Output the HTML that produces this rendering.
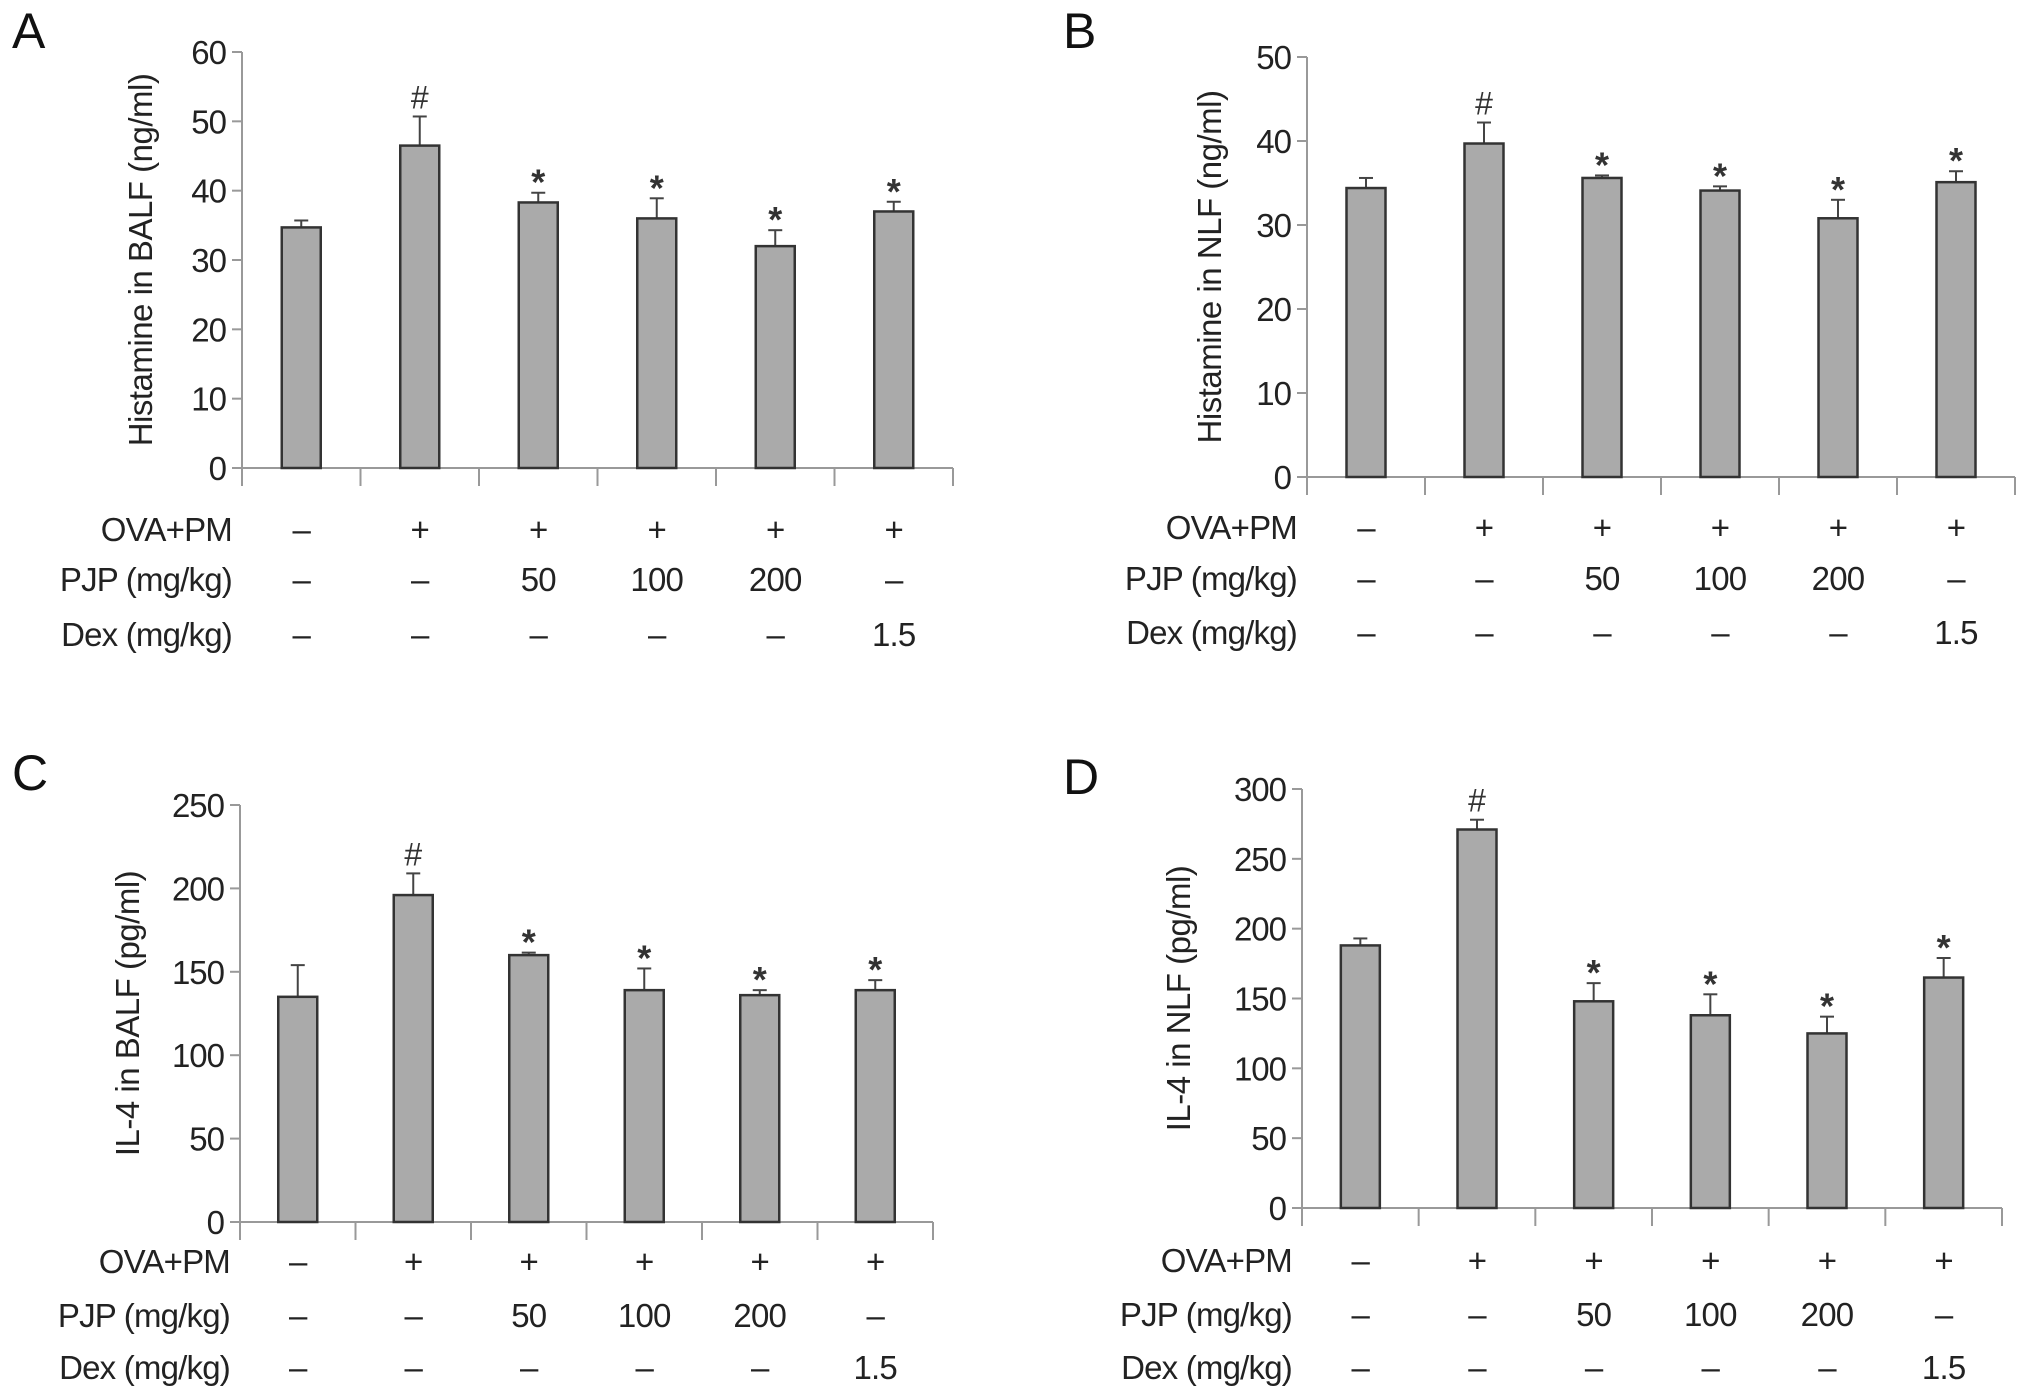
<!DOCTYPE html>
<html><head><meta charset="utf-8"><style>
html,body{margin:0;padding:0;background:#fff;}
svg{display:block;font-family:"Liberation Sans",Arial,sans-serif;}
</style></head><body>
<svg id="fig" width="2032" height="1399" viewBox="0 0 2032 1399" xmlns="http://www.w3.org/2000/svg"></svg>
<script>
const categories = ["ctrl","ova-pm","pjp-50","pjp-100","pjp-200","dex-1.5"];
const rowOva = ["–","+","+","+","+","+"];
const rowPjp = ["–","–","50","100","200","–"];
const rowDex = ["–","–","–","–","–","1.5"];
const marks = ["","#","*","*","*","*"];
const valuesA = [34.7,46.5,38.3,36.0,32.0,37.0];
const errorsA = [1.0,4.2,1.4,2.9,2.3,1.4];
const ticksA = [0,10,20,30,40,50,60];
const valuesB = [34.4,39.7,35.6,34.1,30.8,35.1];
const errorsB = [1.2,2.5,0.3,0.5,2.2,1.3];
const ticksB = [0,10,20,30,40,50];
const valuesC = [135,196,160,139,136,139];
const errorsC = [19,13,1.5,13,3,6];
const ticksC = [0,50,100,150,200,250];
const valuesD = [188,271,148,138,125,165];
const errorsD = [5,7,13,15,12,14];
const ticksD = [0,50,100,150,200,250,300];

const NS="http://www.w3.org/2000/svg";
const svg=document.getElementById('fig');
const FS=33;
function mk(tag,attrs,parent){const e=document.createElementNS(NS,tag);for(const k in attrs)e.setAttribute(k,attrs[k]);(parent||svg).appendChild(e);return e;}

function panel(cfg){
  const g=mk('g',{});
  
  
  const ticks=cfg.ticks, ymax=ticks[ticks.length-1];
  const y=v=>cfg.y0-(v/ymax)*(cfg.y0-cfg.yTop);
  const n=categories.length, cw=(cfg.xR-cfg.x0)/n;
  const cx=i=>cfg.x0+cw*(i+0.5);
  const L=mk('text',{x:cfg.lx,y:cfg.ly,'font-size':50,fill:'#111'},g);L.textContent=cfg.letter;
  
  
  const ya=mk('line',{x1:cfg.x0,y1:cfg.yTop,x2:cfg.x0,y2:cfg.y0,stroke:'#999','stroke-width':2},g);
  
  
  ticks.forEach(t=>{
    mk('line',{x1:cfg.x0-10,y1:y(t),x2:cfg.x0,y2:y(t),stroke:'#999','stroke-width':2},g);
    const tl=mk('text',{x:cfg.x0-16,y:y(t)+12,'font-size':FS,'text-anchor':'end',fill:'#222','letter-spacing':-1},g);tl.textContent=t;
    
    
  });
  const xa=mk('line',{x1:cfg.x0,y1:cfg.y0,x2:cfg.xR,y2:cfg.y0,stroke:'#999','stroke-width':2},g);
  
  
  for(let i=0;i<=n;i++){mk('line',{x1:cfg.x0+cw*i,y1:cfg.y0,x2:cfg.x0+cw*i,y2:cfg.y0+18,stroke:'#999','stroke-width':2},g);}
  const yt=mk('text',{x:0,y:0,'font-size':FS,'text-anchor':'middle',fill:'#222','letter-spacing':-0.5,transform:`translate(${cfg.ylx},${(cfg.y0+cfg.yTop)/2}) rotate(-90)`},g);
  yt.textContent=cfg.ytitle;
  
  
  const bw=39;
  cfg.values.forEach((v,i)=>{
    const top=y(v+cfg.errors[i]);
    mk('line',{x1:cx(i),y1:y(v),x2:cx(i),y2:top,stroke:'#444','stroke-width':2},g);
    mk('line',{x1:cx(i)-7,y1:top,x2:cx(i)+7,y2:top,stroke:'#444','stroke-width':2},g);
    const b=mk('rect',{x:cx(i)-bw/2,y:y(v),width:bw,height:cfg.y0-y(v),fill:'#aaaaaa',stroke:'#333','stroke-width':2.5},g);
    
    
    if(marks[i]){
      const m=mk('text',{x:cx(i),y:top-(marks[i]=='*'?-2:8),'font-size':marks[i]=='*'?36:32,'font-weight':marks[i]=='*'?'bold':'normal','text-anchor':'middle',fill:'#333'},g);
      m.textContent=marks[i];
      
      
    }
  });
  const rows=[["OVA+PM",rowOva,cfg.r1],["PJP (mg/kg)",rowPjp,cfg.r2],["Dex (mg/kg)",rowDex,cfg.r3]];
  rows.forEach(([lab,arr,ry])=>{
    const t=mk('text',{x:cfg.x0-10,y:ry+12,'font-size':FS,'text-anchor':'end',fill:'#222','letter-spacing':-0.8},g);t.textContent=lab;
    
    
    arr.forEach((s,i)=>{
      const c=mk('text',{x:cx(i),y:ry+12,'font-size':FS,'text-anchor':'middle',fill:'#222','letter-spacing':-0.8},g);c.textContent=s;
      
      
    });
  });
}
panel({letter:'A',lx:12,ly:48,x0:242,xR:953,y0:468,yTop:52,ticks:ticksA,values:valuesA,errors:errorsA,ytitle:'Histamine in BALF (ng/ml)',ylx:152,r1:529,r2:579,r3:634});
panel({letter:'B',lx:1063,ly:48,x0:1307,xR:2015,y0:477,yTop:57,ticks:ticksB,values:valuesB,errors:errorsB,ytitle:'Histamine in NLF (ng/ml)',ylx:1221,r1:527,r2:578,r3:632});
panel({letter:'C',lx:12,ly:790,x0:240,xR:933,y0:1222,yTop:805,ticks:ticksC,values:valuesC,errors:errorsC,ytitle:'IL-4 in BALF (pg/ml)',ylx:139,r1:1261,r2:1315,r3:1367});
panel({letter:'D',lx:1063,ly:794,x0:1302,xR:2002,y0:1208,yTop:789,ticks:ticksD,values:valuesD,errors:errorsD,ytitle:'IL-4 in NLF (pg/ml)',ylx:1190,r1:1260,r2:1314,r3:1367});
</script>
</body></html>
